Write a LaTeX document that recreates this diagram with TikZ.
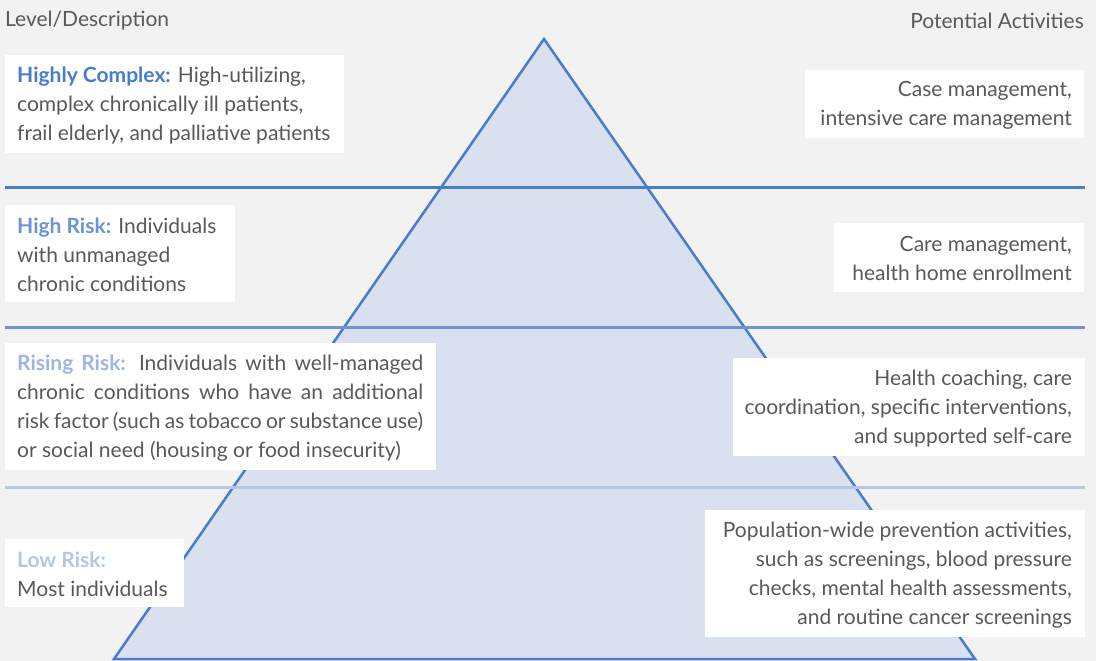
\documentclass[tikz,border=0pt]{standalone}
\usepackage{fontspec}
\setmainfont{Lato}
\definecolor{bg}{HTML}{F2F2F2}
\definecolor{txt}{HTML}{595959}
\definecolor{trifill}{HTML}{D9E0F0}
\definecolor{triline}{HTML}{4A7CC9}
\definecolor{cone}{HTML}{4A7CCB}
\definecolor{ctwo}{HTML}{6B93D6}
\definecolor{cthree}{HTML}{9EB5E3}
\definecolor{cfour}{HTML}{B4C7E7}
\definecolor{lone}{HTML}{4A7CC9}
\definecolor{ltwo}{HTML}{7094D2}
\definecolor{lthree}{HTML}{B4C7E7}
\begin{document}
\begin{tikzpicture}[x=1pt,y=-1pt,
  whitebox/.style={fill=white, draw=none, inner sep=0pt},
  bodytext/.style={font=\fontsize{21}{29}\selectfont, text=txt, inner sep=0pt},
  headtext/.style={font=\fontsize{21}{24}\selectfont, text=txt, inner sep=0pt},
  levelline/.style={line width=3pt}]
\fill[bg] (0,0) rectangle (1096,661);
\useasboundingbox (0,0) rectangle (1096,661);
% pyramid
\coordinate (apex) at (544,39);
\coordinate (bl) at (114,659);
\coordinate (br) at (975,659);
\filldraw[fill=trifill, draw=triline, line width=2.5pt, line join=miter] (apex) -- (bl) -- (br) -- cycle;
% level lines
\coordinate (l1a) at (5,187);   \coordinate (l1b) at (1085,187);
\coordinate (l2a) at (5,327);   \coordinate (l2b) at (1085,327);
\coordinate (l3a) at (5,487);   \coordinate (l3b) at (1085,487);
\draw[levelline, lone] (l1a) -- (l1b);
\draw[levelline, ltwo] (l2a) -- (l2b);
\draw[levelline, lthree] (l3a) -- (l3b);
% headers
\node[headtext, anchor=west] (hl) at (5,21) {Level/Description};
\node[headtext, anchor=east] (hr) at (1084,21) {Potential Activities};
% left boxes
\node[whitebox, anchor=north west, minimum width=339pt, minimum height=98pt] (b1) at (5,55) {};
\node[bodytext, anchor=west, align=left] (t1) at ([xshift=12pt,yshift=-1pt]b1.west)
  {\textcolor{cone}{\bfseries Highly Complex:} High-utilizing,\\complex chronically ill patients,\\frail elderly, and palliative patients};
\node[whitebox, anchor=north west, minimum width=230pt, minimum height=97pt] (b2) at (5,205) {};
\node[bodytext, anchor=west, align=left] (t2) at ([xshift=12pt,yshift=-1pt]b2.west)
  {\textcolor{ctwo}{\bfseries High Risk:} Individuals\\with unmanaged\\chronic conditions};
\node[whitebox, anchor=north west, minimum width=431pt, minimum height=127pt] (b3) at (5,343) {};
\node[bodytext, anchor=west, align=justify, text width=406pt] (t3) at ([xshift=12pt,yshift=-1pt]b3.west)
  {\textcolor{cthree}{\bfseries Rising Risk:} Individuals with well-managed\linebreak chronic conditions who have an additional\linebreak risk factor (such as tobacco or substance use)\linebreak or social need (housing or food insecurity)};
\node[whitebox, anchor=north west, minimum width=179pt, minimum height=68pt] (b4) at (5,539) {};
\node[bodytext, anchor=west, align=left] (t4) at ([xshift=12pt,yshift=-1pt]b4.west)
  {\textcolor{cfour}{\bfseries Low Risk:}\\Most individuals};
% right boxes
\node[whitebox, anchor=north east, minimum width=279pt, minimum height=68pt] (r1) at (1084,70) {};
\node[bodytext, anchor=east, align=right] (s1) at ([xshift=-12pt,yshift=-1pt]r1.east)
  {Case management,\\intensive care management};
\node[whitebox, anchor=north east, minimum width=250pt, minimum height=69pt] (r2) at (1084,223) {};
\node[bodytext, anchor=east, align=right] (s2) at ([xshift=-12pt,yshift=-1pt]r2.east)
  {Care management,\\health home enrollment};
\node[whitebox, anchor=north east, minimum width=352pt, minimum height=98pt] (r3) at (1085,358) {};
\node[bodytext, anchor=east, align=right] (s3) at ([xshift=-13pt,yshift=-1pt]r3.east)
  {Health coaching, care\\coordination, specific interventions,\\and supported self-care};
\node[whitebox, anchor=north east, minimum width=380pt, minimum height=127pt] (r4) at (1085,510) {};
\node[bodytext, anchor=east, align=right] (s4) at ([xshift=-13pt,yshift=-1pt]r4.east)
  {Population-wide prevention activities,\\such as screenings, blood pressure\\checks, mental health assessments,\\and routine cancer screenings};
\end{tikzpicture}
\end{document}
